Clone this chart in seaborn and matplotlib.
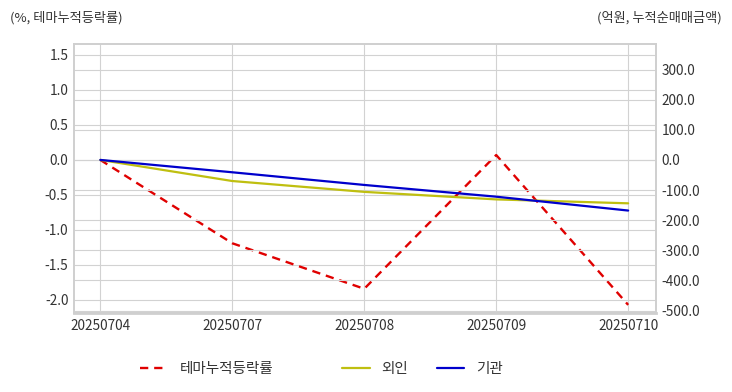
import pandas as pd
import matplotlib
matplotlib.use('Agg')
import matplotlib.pyplot as plt
import seaborn as sns
from matplotlib.ticker import FormatStrFormatter, MultipleLocator

dates = ['20250704', '20250707', '20250708', '20250709', '20250710']
theme_rate = [0.0, -1.19, -1.84, 0.07, -2.07]
foreign_amt = [0.0, -70.0, -106.0, -131.0, -144.0]
inst_amt = [0.0, -41.0, -83.0, -122.0, -168.0]

sns.set_style('whitegrid', {'grid.color': '#d2d2d2', 'axes.edgecolor': '#cfcfcf'})
plt.rcParams['font.family'] = ['Noto Sans CJK KR', 'DejaVu Sans']
plt.rcParams['axes.unicode_minus'] = False

df = pd.DataFrame({'x': range(len(dates)), 'theme': theme_rate,
                   'foreign': foreign_amt, 'inst': inst_amt})

fig = plt.figure(figsize=(7.32, 3.92), dpi=100)
ax = fig.add_axes([0.101, 0.2015, 0.795, 0.6865])
ax2 = ax.twinx()

sns.lineplot(data=df, x='x', y='theme', ax=ax, color='#e00000', linewidth=1.7,
             linestyle=(0, (3.5, 2.5)), label='테마누적등락률', legend=False)
sns.lineplot(data=df, x='x', y='foreign', ax=ax2, color='#bfbf10', linewidth=1.6,
             label='외인', legend=False)
sns.lineplot(data=df, x='x', y='inst', ax=ax2, color='#0000cc', linewidth=1.6,
             label='기관', legend=False)

ax.set_xlim(-0.2, 4.21)
ax.set_xticks(range(len(dates)))
ax.set_xticklabels(dates)
ax.set_ylim(-2.186, 1.657)
ax.yaxis.set_major_locator(MultipleLocator(0.5))
ax.yaxis.set_major_formatter(FormatStrFormatter('%.1f'))
ax2.set_ylim(-508, 385)
ax2.set_yticks(range(-500, 301, 100))
ax2.yaxis.set_major_formatter(FormatStrFormatter('%.1f'))
ax2.grid(True, axis='y', color='#d2d2d2')
ax2.grid(False, axis='x')

for a in (ax, ax2):
    a.set_xlabel('')
    a.set_ylabel('')
    a.tick_params(length=0, labelsize=9.8, labelcolor='#333333', pad=4)
    for s in a.spines.values():
        s.set_color('#cfcfcf')
        s.set_linewidth(1.2)
ax.spines['bottom'].set_linewidth(2)

fig.text(0.013, 0.955, '(%, 테마누적등락률)', fontsize=9.5, color='#333333', va='center')
fig.text(0.986, 0.955, '(억원, 누적순매매금액)', fontsize=9.5, color='#333333', va='center', ha='right')

h1, l1 = ax.get_legend_handles_labels()
h2, l2 = ax2.get_legend_handles_labels()
leg_kw = dict(frameon=False, fontsize=10.5, handlelength=1.9, handletextpad=0.8,
              borderpad=0, borderaxespad=0, labelcolor='#333333')
fig.legend(h1, l1, loc='center left', bbox_to_anchor=(140 / 732, 0.058), **leg_kw)
fig.legend(h2, l2, loc='center left', bbox_to_anchor=(342 / 732, 0.058), ncol=2,
           columnspacing=1.95, **leg_kw)

plt.savefig('out.png', dpi=100)
plt.close()
